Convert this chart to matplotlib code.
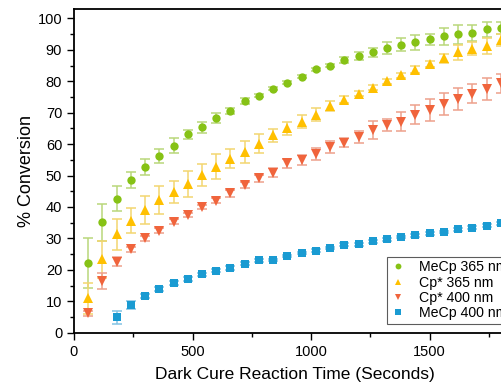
import matplotlib.pyplot as plt
from matplotlib.ticker import MultipleLocator

plt.rcParams['font.family'] = ['Liberation Sans', 'DejaVu Sans']

# time points (s)
t_all = [60, 120, 180, 240, 300, 360, 420, 480, 540, 600, 660, 720, 780, 840, 900,
         960, 1020, 1080, 1140, 1200, 1260, 1320, 1380, 1440, 1500, 1560, 1620,
         1680, 1740, 1800]
t_blue = t_all[2:]

mecp365 = [22.1, 35.1, 42.7, 48.6, 52.8, 56.3, 59.5, 63.1, 65.3, 68.3, 70.5, 73.8,
           75.4, 77.6, 79.6, 81.4, 83.8, 85.0, 86.7, 88.0, 89.2, 90.6, 91.7, 92.4,
           93.3, 94.4, 95.0, 95.4, 96.5, 96.9]
mecp365_err = [8, 6, 4, 2.5, 2.5, 2.3, 2.3, 1.5, 1.8, 1.5, 1, 1, 0.5, 0.5, 0.5,
               0.5, 0.5, 0.6, 1, 1.2, 1.5, 2, 2, 2.3, 1.8, 2.7, 3, 2.5, 2.5, 2]

cp365 = [10.9, 23.3, 31.3, 35.6, 39.0, 42.2, 44.8, 47.3, 50.1, 52.8, 55.3, 57.6,
         60.2, 62.8, 65.0, 67.2, 69.4, 72.1, 74.2, 76.1, 78.0, 80.0, 81.9, 83.7,
         85.4, 87.3, 89.2, 90.4, 91.3, 93.1]
cp365_err = [5, 6, 5, 4, 4.5, 4.5, 3.5, 4, 3.5, 4, 3, 3.5, 3, 2, 2, 2, 2, 1.5,
             1, 0.8, 0.8, 0.8, 0.8, 1.2, 1, 1.5, 2.3, 2, 2.5, 2]

cp400 = [6.2, 16.5, 22.6, 26.5, 30.0, 32.4, 35.3, 37.4, 39.9, 42.0, 44.3, 47.0,
         49.1, 50.9, 53.9, 54.9, 56.8, 59.1, 60.5, 62.3, 64.5, 66.1, 67.2, 69.4,
         70.8, 72.9, 74.3, 76.1, 77.4, 79.3]
cp400_err = [0.8, 2.5, 1.5, 0.8, 0.8, 0.8, 0.8, 0.6, 0.6, 0.8, 1, 1, 1.2, 1.5,
             1.5, 1.5, 2, 2, 1.5, 2, 3, 2, 3, 3, 3.5, 3.5, 3.5, 3, 3.5, 3]

mecp400 = [4.9, 8.8, 11.7, 13.8, 15.9, 17.1, 18.6, 19.7, 20.6, 21.9, 23.1, 23.2,
           24.4, 25.4, 26.1, 27.0, 28.0, 28.1, 29.1, 29.7, 30.4, 31.0, 31.6, 32.1,
           32.9, 33.4, 34.1, 34.8]
mecp400_err = [2, 1.3, 0.6, 0.6, 0.6, 0.5, 0.5, 0.5, 0.5, 0.5, 0.5, 0.4, 0.4,
               0.4, 0.4, 0.4, 0.4, 0.4, 0.4, 0.4, 0.4, 0.4, 0.4, 0.4, 0.4, 0.4,
               0.4, 0.4]

series = [
    ('MeCp 365 nm', t_all, mecp365, mecp365_err, 'o', '#86C215', '#B9D77A', 6),
    ('Cp* 365 nm', t_all, cp365, cp365_err, '^', '#FFC000', '#F3D670', 7),
    ('Cp* 400 nm', t_all, cp400, cp400_err, 'v', '#F0643C', '#EDA08C', 7),
    ('MeCp 400 nm', t_blue, mecp400, mecp400_err, 's', '#1A9BD2', '#84C4E4', 6),
]

fig = plt.figure(figsize=(5.02, 3.82), dpi=100)
ax = fig.add_axes([74 / 502, 49.3 / 382, 441 / 502, 323.7 / 382])

handles = []
for name, x, y, e, m, c, ec, ms in series:
    ax.errorbar(x, y, yerr=e, fmt='none', ecolor=ec, elinewidth=1.1,
                capsize=3.5, capthick=1.1, zorder=2)
    h, = ax.plot(x, y, linestyle='none', marker=m, color=c, markersize=ms,
                 markeredgewidth=0, label=name, zorder=3)
    handles.append(h)

ax.set_xlim(0, 1860)
ax.set_ylim(0, 103)
ax.xaxis.set_major_locator(MultipleLocator(500))
ax.xaxis.set_minor_locator(MultipleLocator(250))
ax.yaxis.set_major_locator(MultipleLocator(10))
ax.yaxis.set_minor_locator(MultipleLocator(5))
ax.tick_params(which='both', direction='out', labelsize=10.5, width=1,
               top=False, right=False)
ax.tick_params(which='major', length=5)
ax.tick_params(which='minor', length=3)
for s in ax.spines.values():
    s.set_linewidth(1.3)

ax.set_xlabel('Dark Cure Reaction Time (Seconds)', fontsize=12.5, labelpad=6)
ax.set_ylabel('% Conversion', fontsize=13, labelpad=2)

leg = ax.legend(handles=handles, loc='upper left', bbox_to_anchor=(0.71, 0.235),
                fontsize=10.2, frameon=True, fancybox=False, handlelength=1.0,
                handletextpad=1.0, borderpad=0.25, labelspacing=0.1,
                borderaxespad=0, markerscale=0.7)
leg.get_frame().set_edgecolor('#333333')
leg.get_frame().set_linewidth(0.8)

fig.savefig('out.png', dpi=100)
